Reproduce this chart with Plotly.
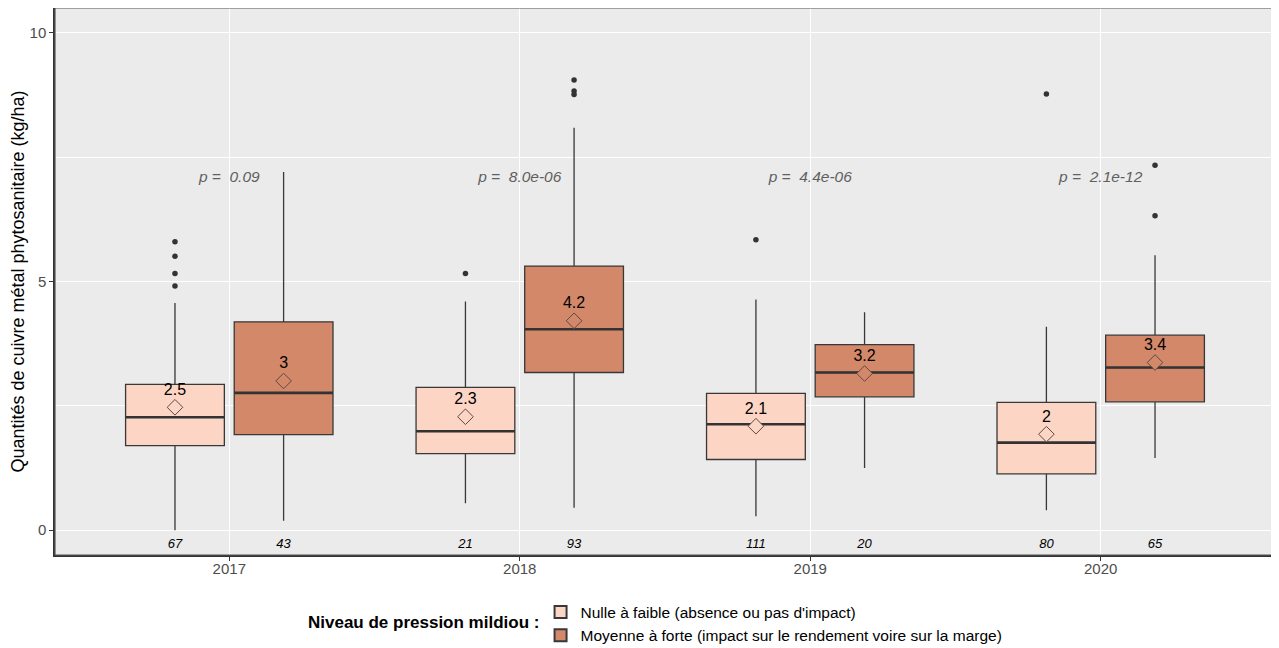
import plotly.graph_objects as go

years = ["2017", "2018", "2019", "2020"]
groups = ["Nulle à faible (absence ou pas d'impact)",
          "Moyenne à forte (impact sur le rendement voire sur la marge)"]
legend_title = "Niveau de pression mildiou :"

# stats per group: [2017, 2018, 2019, 2020]
low_q1 = [1.70, 1.54, 1.42, 1.13]
low_med = [2.27, 1.99, 2.13, 1.76]
low_q3 = [2.93, 2.87, 2.75, 2.57]
low_lo = [0.00, 0.54, 0.28, 0.40]
low_hi = [4.57, 4.60, 4.64, 4.09]
low_mean = [2.47, 2.28, 2.09, 1.93]
low_mean_lbl = ["2.5", "2.3", "2.1", "2"]
low_out = [[5.80, 5.51, 5.16, 4.91], [5.16], [5.84], [8.77]]
low_n = [67, 21, 111, 80]

high_q1 = [1.92, 3.17, 2.68, 2.58]
high_med = [2.76, 4.04, 3.17, 3.27]
high_q3 = [4.19, 5.31, 3.73, 3.92]
high_lo = [0.19, 0.45, 1.25, 1.45]
high_hi = [7.20, 8.09, 4.38, 5.53]
high_mean = [3.00, 4.21, 3.15, 3.37]
high_mean_lbl = ["3", "4.2", "3.2", "3.4"]
high_out = [[], [9.05, 8.83, 8.76], [], [7.34, 6.32]]
high_n = [43, 93, 20, 65]

p_values = ["p =  0.09", "p =  8.0e-06", "p =  4.4e-06", "p =  2.1e-12"]
p_y = 7.08
n_y = -0.3

colors = ["#fdd5c4", "#d3886a"]
offset = 0.187
bw = 0.34
FONT = "Liberation Sans, Arial, sans-serif"

fig = go.Figure()

series = [
    (low_q1, low_med, low_q3, low_lo, low_hi, low_mean, low_mean_lbl, low_out, low_n, -offset),
    (high_q1, high_med, high_q3, high_lo, high_hi, high_mean, high_mean_lbl, high_out, high_n, offset),
]

for gi, (q1, med, q3, lo, hi, mean, mlbl, outs, ns, off) in enumerate(series):
    xs = [i + off for i in range(len(years))]
    fig.add_trace(go.Box(
        x=xs, q1=q1, median=med, q3=q3, lowerfence=lo, upperfence=hi,
        width=bw, fillcolor=colors[gi], line=dict(color="#383838", width=1.3),
        whiskerwidth=0, boxpoints=False, name=groups[gi], showlegend=True,
        legendgroup=str(gi),
    ))
    # thick median lines
    for x, m in zip(xs, med):
        fig.add_trace(go.Scatter(x=[x - bw / 2, x + bw / 2], y=[m, m], mode="lines",
                                 line=dict(color="#333333", width=2.6),
                                 showlegend=False, hoverinfo="skip"))
    # outliers
    ox, oy = [], []
    for x, o in zip(xs, outs):
        ox += [x] * len(o)
        oy += o
    fig.add_trace(go.Scatter(x=ox, y=oy, mode="markers",
                             marker=dict(color="#333333", size=5.5),
                             showlegend=False, hoverinfo="skip"))
    # means
    fig.add_trace(go.Scatter(x=xs, y=mean, mode="markers+text", text=mlbl,
                             textposition="top center",
                             textfont=dict(size=16, color="#000000", family=FONT),
                             marker=dict(symbol="diamond", size=12,
                                         color=colors[gi],
                                         line=dict(color="#5b4b45", width=1)),
                             showlegend=False, hoverinfo="skip"))
    # counts
    fig.add_trace(go.Scatter(x=xs, y=[n_y] * len(xs), mode="text",
                             text=[f"<i>{n}</i>" for n in ns],
                             textfont=dict(size=13, color="#000000", family=FONT),
                             showlegend=False, hoverinfo="skip"))

# p-values
fig.add_trace(go.Scatter(x=list(range(len(years))), y=[p_y] * len(years), mode="text",
                         text=[f"<i>{p}</i>" for p in p_values],
                         textfont=dict(size=15.5, color="#5f5f5f", family=FONT),
                         showlegend=False, hoverinfo="skip"))

# page body has an 8px margin, so figure is drawn 8px smaller / shifted
fig.update_layout(
    width=1271, height=640,
    margin=dict(l=47, r=4, t=0, b=93, autoexpand=False),
    paper_bgcolor="white", plot_bgcolor="#ebebeb",
    font=dict(family=FONT, size=14, color="#000000"),
    boxmode="overlay",
    showlegend=True,
    legend=dict(orientation="v", x=0.398, xanchor="left", y=-0.074, yanchor="top",
                font=dict(size=15.5, color="#000000"), tracegroupgap=0,
                itemsizing="constant", bgcolor="rgba(0,0,0,0)"),
    annotations=[dict(text=f"<b>{legend_title}</b>", xref="paper", yref="paper",
                      x=0.398, y=-0.1225, xanchor="right", yanchor="middle",
                      showarrow=False, font=dict(size=17, color="#000000"))],
    shapes=[dict(type="rect", xref="paper", yref="paper", x0=0, x1=1, y0=0, y1=1,
                 line=dict(color="#555555", width=1.2), fillcolor="rgba(0,0,0,0)",
                 layer="above")],
)

fig.update_xaxes(range=[-0.6, 3.6], tickmode="array", tickvals=list(range(len(years))),
                 ticktext=years, showgrid=True, gridcolor="white", gridwidth=1.2,
                 zeroline=False, ticks="outside", ticklen=4, tickcolor="#333333",
                 showline=True, linecolor="#333333", linewidth=1.5, automargin=False,
                 ticklabelstandoff=-5,
                 tickfont=dict(size=15, color="#4d4d4d"))
fig.update_yaxes(range=[-0.5, 10.5], tickmode="array", tickvals=[0, 5, 10],
                 showgrid=True, gridcolor="white", gridwidth=1.2,
                 minor=dict(tickvals=[2.5, 7.5], showgrid=True, gridcolor="white",
                            gridwidth=0.6),
                 zeroline=False, ticks="outside", ticklen=4, tickcolor="#333333",
                 showline=True, linecolor="#333333", linewidth=1.5, automargin=False,
                 tickfont=dict(size=15, color="#4d4d4d"),
                 title=dict(text="Quantités de cuivre métal phytosanitaire (kg/ha)",
                            font=dict(size=18, color="#000000"), standoff=1))

fig.write_html("out.html")
